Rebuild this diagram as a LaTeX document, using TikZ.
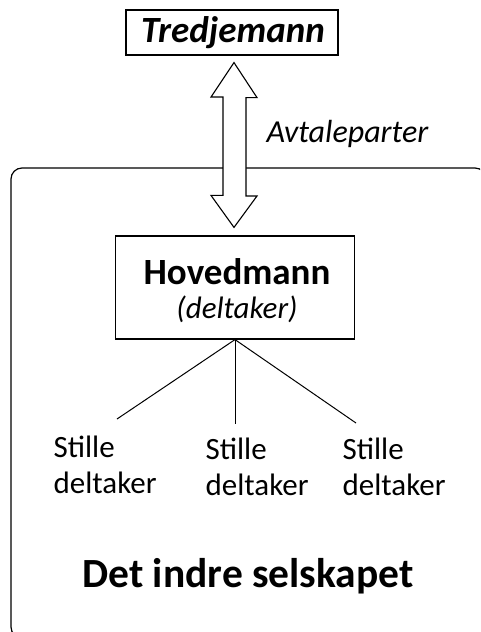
\documentclass[tikz,border=0pt]{standalone}
\usepackage{fontspec}
\setmainfont{Carlito}
\usetikzlibrary{calc}
\begin{document}
\begin{tikzpicture}[x=1pt,y=-1pt,
  line width=1.2pt,
  boxed/.style={draw, inner sep=0pt},
  lbl/.style={inner sep=0pt, anchor=base west},
  silent/.style={inner sep=0pt, anchor=base west, align=left, font=\fontsize{31}{36}\selectfont},
  conn/.style={line width=1pt}]
\useasboundingbox (0,0) rectangle (480,632);
\clip (0,0) rectangle (480,632);
% outer group
\draw[rounded corners=11pt] (11,168) rectangle (486,638);
% top node
\node[boxed, minimum width=212pt, minimum height=45pt] (tre) at (232,32.5) {};
\node[inner sep=0pt, anchor=base] (tretxt) at (233,42) {\fontsize{37}{38}\selectfont\bfseries\itshape Tredjemann};
% main node
\node[boxed, minimum width=239pt, minimum height=103pt] (hov) at (235,287.5) {};
\node[inner sep=0pt, anchor=base] (hovtxt) at (237,284) {\fontsize{37}{38}\selectfont\bfseries Hovedmann};
\node[inner sep=0pt, anchor=base] (deltxt) at (237,318) {\fontsize{31}{32}\selectfont\itshape (deltaker)};
% double arrow
\coordinate (t1) at ($(tre.south)+(2,7)$);
\coordinate (t2) at ($(hov.north)+(-1,-8)$);
\draw[line width=1.1pt, fill=white] (t1) -- ++(23,35) -- ++(-11,0) -- (246,196) -- ++(11,0) -- (t2)
  -- ++(-23,-32) -- ++(12,0) -- (223,97) -- ++(-12,0) -- cycle;
\node[lbl] (avt) at (266,142) {\fontsize{32}{33}\selectfont\itshape Avtaleparter};
% silent partners
\node[silent] (s1) at (53,493) {Stille\\deltaker};
\node[silent] (s2) at (205,495) {Stille\\deltaker};
\node[silent] (s3) at (342,495) {Stille\\deltaker};
\coordinate (e1) at (117,419);
\coordinate (e2) at (235,424);
\coordinate (e3) at (356,423);
\draw[conn] (hov.south) -- (e1);
\draw[conn] (hov.south) -- (e2);
\draw[conn] (hov.south) -- (e3);
\node[inner sep=0pt, anchor=base] (det) at (248,587) {\fontsize{41.5}{43}\selectfont\bfseries Det indre selskapet};
\end{tikzpicture}
\end{document}
